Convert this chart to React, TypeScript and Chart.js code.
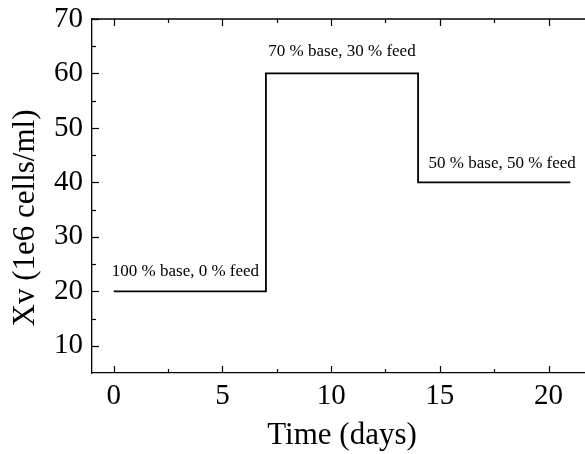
import { useEffect, useRef } from "react";
import { Chart, registerables } from "chart.js";

Chart.register(...registerables);

// ---- data ----
const stepX = [0, 7, 7, 14, 14, 21];
const stepY = [20, 20, 60, 60, 40, 40];
const labelTexts = ["100 % base, 0 % feed", "70 % base, 30 % feed", "50 % base, 50 % feed"];
const labelX = [3.3, 10.5, 17.87];
const labelY = [23.6, 64.1, 43.5];
const xTicks = [0, 5, 10, 15, 20];
const xMinor = [2.5, 7.5, 12.5, 17.5];
const yTicks = [10, 20, 30, 40, 50, 60, 70];
const yMinor = [15, 25, 35, 45, 55, 65];
const xTitle = "Time (days)";
const yTitle = "Xv (1e6 cells/ml)";

const FONT = "'Liberation Serif', 'Times New Roman', serif";

const decorPlugin = {
  id: "decor",
  afterDraw(chart: any) {
    const { ctx, chartArea } = chart;
    const xs = chart.scales.x;
    const ys = chart.scales.y;
    ctx.save();
    ctx.strokeStyle = "#000";
    ctx.lineWidth = 1.3;
    // top border
    ctx.beginPath();
    ctx.moveTo(chartArea.left, chartArea.top);
    ctx.lineTo(chartArea.right + 2, chartArea.top);
    ctx.stroke();
    ctx.lineWidth = 1.2;
    const tick = (v: number, len: number) => {
      const px = Math.round(xs.getPixelForValue(v)) + 0.5;
      ctx.beginPath();
      ctx.moveTo(px, chartArea.bottom);
      ctx.lineTo(px, chartArea.bottom - len);
      ctx.moveTo(px, chartArea.top);
      ctx.lineTo(px, chartArea.top + len);
      ctx.stroke();
    };
    xTicks.forEach((v) => tick(v, 7));
    xMinor.forEach((v) => tick(v, 4));
    const ytick = (v: number, len: number) => {
      const py = Math.round(ys.getPixelForValue(v)) + 0.5;
      ctx.beginPath();
      ctx.moveTo(chartArea.left, py);
      ctx.lineTo(chartArea.left + len, py);
      ctx.stroke();
    };
    yTicks.forEach((v) => ytick(v, 7));
    yMinor.forEach((v) => ytick(v, 4));
    // annotations
    ctx.fillStyle = "#000";
    ctx.font = `17px ${FONT}`;
    ctx.textAlign = "center";
    ctx.textBaseline = "middle";
    labelTexts.forEach((t, i) => {
      ctx.fillText(t, xs.getPixelForValue(labelX[i]), ys.getPixelForValue(labelY[i]));
    });
    // y title
    ctx.font = `31px ${FONT}`;
    ctx.translate(26, 218);
    ctx.rotate(-Math.PI / 2);
    ctx.fillText(yTitle, 0, 0);
    ctx.restore();
  },
};

export default function App() {
  const ref = useRef<HTMLCanvasElement | null>(null);
  useEffect(() => {
    document.body.style.margin = "0";
    const canvas = ref.current!;
    const chart = new Chart(canvas, {
      type: "line",
      data: {
        datasets: [
          {
            data: stepX.map((x, i) => ({ x, y: stepY[i] })),
            borderColor: "#000",
            borderWidth: 1.8,
            pointRadius: 0,
            fill: false,
            tension: 0,
          },
        ],
      },
      options: {
        animation: false,
        responsive: false,
        devicePixelRatio: 1,
        layout: { padding: { top: 19, right: 8, left: 0, bottom: 0 } },
        plugins: { legend: { display: false }, tooltip: { enabled: false } },
        scales: {
          x: {
            type: "linear",
            min: -1,
            max: 22,
            grid: { display: false, drawTicks: false },
            border: { display: true, color: "#000", width: 1.3 },
            afterBuildTicks: (s: any) => {
              s.ticks = xTicks.map((v) => ({ value: v }));
            },
            afterFit: (s: any) => {
              s.height = 81;
              s.paddingLeft = 0;
              s.paddingRight = 0;
            },
            ticks: {
              color: "#000",
              padding: 6,
              maxRotation: 0,
              autoSkip: false,
              font: { family: FONT, size: 29 },
            },
            title: {
              display: true,
              text: xTitle,
              color: "#000",
              font: { family: FONT, size: 31 },
              padding: { top: 0, bottom: 0 },
            },
          },
          y: {
            type: "linear",
            min: 5,
            max: 70,
            grid: { display: false, drawTicks: false },
            border: { display: true, color: "#000", width: 1.3 },
            afterBuildTicks: (s: any) => {
              s.ticks = yTicks.map((v) => ({ value: v }));
            },
            afterFit: (s: any) => {
              s.width = 92;
              s.paddingTop = 0;
              s.paddingBottom = 0;
            },
            ticks: {
              color: "#000",
              padding: 9,
              autoSkip: false,
              font: { family: FONT, size: 29 },
            },
          },
        },
      },
      plugins: [decorPlugin],
    });
    return () => chart.destroy();
  }, []);
  return (
    <div style={{ width: 585, height: 454, overflow: "hidden", background: "#fff" }}>
      <canvas ref={ref} width={600} height={454} style={{ display: "block" }} />
    </div>
  );
}
